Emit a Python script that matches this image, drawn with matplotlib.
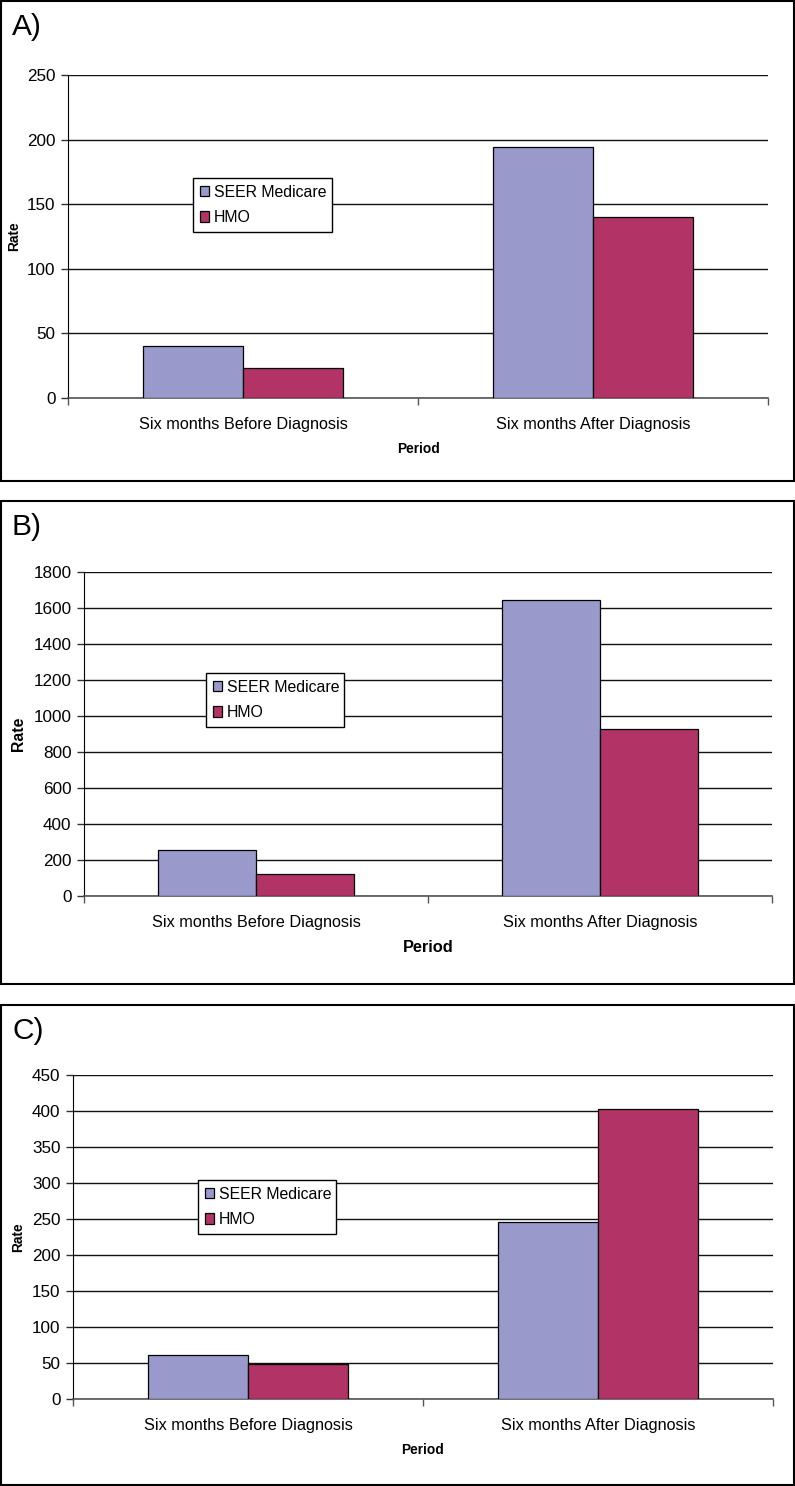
import numpy as np
import matplotlib
matplotlib.use("Agg")
import matplotlib.pyplot as plt
from matplotlib.patches import Rectangle

plt.rcParams['font.family'] = ['Liberation Sans', 'DejaVu Sans']

# data
periods = ["Six months Before Diagnosis", "Six months After Diagnosis"]
series = ["SEER Medicare", "HMO"]
seer_a = [40, 194]
hmo_a = [23, 140]
seer_b = [255, 1645]
hmo_b = [121, 930]
seer_c = [61, 246]
hmo_c = [49, 403]

ticks_a = [0, 50, 100, 150, 200, 250]
ticks_b = [0, 200, 400, 600, 800, 1000, 1200, 1400, 1600, 1800]
ticks_c = [0, 50, 100, 150, 200, 250, 300, 350, 400, 450]

SEER_COL = '#9999CC'
HMO_COL = '#B23366'

W, H = 795, 1486
fig = plt.figure(figsize=(W / 100, H / 100), dpi=100)


def fx(x):
    return x / W


def fy(y):
    return 1 - y / H


def panel(letter, box, axbox, seer, hmo, yticks, leg, rate_fs, period_fs, period_y, rate_x):
    # outer frame of the panel
    bx0, by0, bx1, by1 = box
    fig.add_artist(Rectangle((fx(bx0), fy(by1)), fx(bx1 - bx0), (by1 - by0) / H,
                             transform=fig.transFigure, fill=False,
                             ec='black', lw=1.5))
    fig.text(fx(bx0 + 11), fy(by0 + 26), letter, fontsize=21.5,
             ha='left', va='center')

    l, t, r, b = axbox
    ax = fig.add_axes([fx(l), fy(b), fx(r - l), (b - t) / H])
    x = np.arange(len(periods))
    w = 1 / 3.5
    b1 = ax.bar(x - w / 2, seer, w, color=SEER_COL, edgecolor='black', lw=0.9,
                zorder=3, label=series[0])
    b2 = ax.bar(x + w / 2, hmo, w, color=HMO_COL, edgecolor='black', lw=0.9,
                zorder=3, label=series[1])
    ax.set_xlim(-0.5, 1.5)
    ax.set_ylim(yticks[0], yticks[-1])
    ax.set_yticks(yticks)
    ax.yaxis.grid(True, color='#111111', lw=1.0, zorder=0)
    ax.set_axisbelow(True)
    ax.tick_params(axis='y', direction='out', length=5, width=1,
                   pad=4, labelsize=12.3, color='#333333')
    # boundaries carry the tick marks, labels sit in the middle
    ax.set_xticks([-0.5, 0.5, 1.5])
    ax.set_xticklabels([])
    ax.set_xticks(x, minor=True)
    ax.set_xticklabels(periods, minor=True)
    ax.tick_params(axis='x', which='major', direction='out', length=5,
                   width=1, color='#555555')
    ax.tick_params(axis='x', which='minor', length=0, pad=13.5, labelsize=11.7)
    for s in ['top', 'right']:
        ax.spines[s].set_visible(False)
    ax.spines['left'].set_color('black')
    ax.spines['bottom'].set_color('#555555')
    ax.spines['bottom'].set_linewidth(1.2)

    fig.text(fx((l + r) / 2), fy(period_y), "Period", fontsize=period_fs,
             fontweight='bold', ha='center', va='center')
    fig.text(fx(rate_x), fy((t + b) / 2), "Rate", fontsize=rate_fs,
             fontweight='bold', rotation=90, ha='center', va='center')

    lx0, ly0, lx1 = leg
    ax.legend(handles=[b1, b2], labels=series, loc='upper left',
              bbox_to_anchor=(fx(lx0), fy(ly0) - 0.2, fx(lx1 - lx0), 0.2),
              bbox_transform=fig.transFigure, mode='expand',
              borderaxespad=0, fancybox=False, edgecolor='black',
              framealpha=1, fontsize=11.4, handlelength=0.6,
              handleheight=0.6, handletextpad=0.3, borderpad=0.42,
              labelspacing=0.66)
    ax.get_legend().get_frame().set_linewidth(1.0)
    return ax


panel("A)", (1, 1, 794, 481), (68, 75, 768, 398), seer_a, hmo_a, ticks_a,
      (193, 178, 332), 9.9, 9.9, 449, 14)
panel("B)", (1, 501, 794, 984), (84, 572, 772, 896), seer_b, hmo_b, ticks_b,
      (206, 673, 344), 11.3, 11.8, 947, 19)
panel("C)", (1, 1005, 794, 1485), (73, 1075, 773, 1399), seer_c, hmo_c, ticks_c,
      (198, 1180, 336), 9.9, 9.9, 1450, 18)

fig.savefig("out.png", dpi=100)
